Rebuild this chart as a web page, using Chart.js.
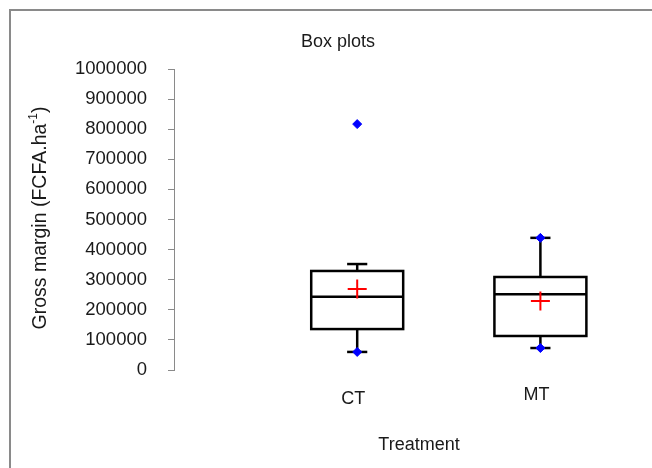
<!DOCTYPE html>
<html>
<head>
<meta charset="utf-8">
<script src="https://cdn.jsdelivr.net/npm/chart.js@4.4.0/dist/chart.umd.min.js"></script>
<style>
  html, body { margin: 0; padding: 0; background: #fff; overflow: hidden; }
  #wrap { position: relative; width: 652px; height: 468px; }
  #frame { position: absolute; left: 9px; top: 9px; width: 700px; height: 520px; border: 2px solid #8a8a8a; box-sizing: border-box; }
  canvas { position: absolute; left: 0; top: 0; }
</style>
</head>
<body>
<div id="wrap">
  <div id="frame"></div>
  <canvas id="chart" width="652" height="468"></canvas>
</div>
<script>
// Data
const categories = ['CT', 'MT'];
const positions = [1, 2];
const whiskerLow = [60000, 73000];
const q1 = [136000, 113000];
const medians = [243000, 252000];
const q3 = [329000, 309000];
const whiskerHigh = [352000, 439000];
const means = [269000, 229000];
const extremes = [[60000, 817000], [73000, 439000]];
const yTicks = [0, 100000, 200000, 300000, 400000, 500000, 600000, 700000, 800000, 900000, 1000000];

const FONT = "'Liberation Sans', Arial, sans-serif";
const TEXT = '#1a1a1a';

// Box, whiskers and median drawn through the scales
const boxPlugin = {
  id: 'boxes',
  beforeDatasetsDraw(chart) {
    const { ctx, scales: { x, y } } = chart;
    ctx.save();
    ctx.strokeStyle = '#000';
    ctx.lineWidth = 2.5;
    const line = (x1, y1, x2, y2) => { ctx.beginPath(); ctx.moveTo(x1, y1); ctx.lineTo(x2, y2); ctx.stroke(); };
    categories.forEach((c, i) => {
      const cx = x.getPixelForValue(positions[i]);
      const hw = x.getPixelForValue(positions[i] + 0.251) - cx;
      const cap = x.getPixelForValue(positions[i] + 0.055) - cx;
      const yHi = y.getPixelForValue(whiskerHigh[i]);
      const yLo = y.getPixelForValue(whiskerLow[i]);
      const y3 = y.getPixelForValue(q3[i]);
      const y1 = y.getPixelForValue(q1[i]);
      const ym = y.getPixelForValue(medians[i]);
      line(cx, y3, cx, yHi); line(cx - cap, yHi, cx + cap, yHi);
      line(cx, y1, cx, yLo); line(cx - cap, yLo, cx + cap, yLo);
      ctx.strokeRect(cx - hw, y3, hw * 2, y1 - y3);
      line(cx - hw, ym, cx + hw, ym);
    });
    ctx.restore();
  },
  afterDraw(chart) {
    const { ctx, scales: { x, y } } = chart;
    ctx.save();
    ctx.fillStyle = TEXT;
    ctx.font = `18px ${FONT}`;
    ctx.textAlign = 'center';
    ctx.textBaseline = 'middle';
    ctx.fillText('Box plots', 338, 42);
    categories.forEach((c, i) => {
      ctx.fillText(c, x.getPixelForValue(positions[i]) - 4, y.getPixelForValue(whiskerLow[i]) + 47);
    });
    ctx.fillText('Treatment', 419, 445);

    // y title with superscript
    ctx.translate(41, 218);
    ctx.rotate(-Math.PI / 2);
    const main = 'Gross margin (FCFA.ha';
    const sup = '-1';
    ctx.font = `19.5px ${FONT}`;
    const w1 = ctx.measureText(main).width;
    const w3 = ctx.measureText(')').width;
    ctx.font = `12px ${FONT}`;
    const w2 = ctx.measureText(sup).width;
    const sx = -(w1 + w2 + w3) / 2;
    ctx.textAlign = 'left';
    ctx.font = `19.5px ${FONT}`;
    ctx.fillText(main, sx, 0);
    ctx.font = `12px ${FONT}`;
    ctx.fillText(sup, sx + w1, -7);
    ctx.font = `19.5px ${FONT}`;
    ctx.fillText(')', sx + w1 + w2, 0);
    ctx.restore();
  }
};

const extremePoints = [];
extremes.forEach((arr, i) => arr.forEach(v => extremePoints.push({ x: positions[i], y: v })));
const meanPoints = means.map((v, i) => ({ x: positions[i], y: v }));

new Chart(document.getElementById('chart'), {
  type: 'scatter',
  data: {
    datasets: [
      { label: 'Extremes', data: extremePoints, pointStyle: 'rectRot', radius: 4.5, backgroundColor: '#0000ff', borderColor: '#0000ff', borderWidth: 1 },
      { label: 'Mean', data: meanPoints, pointStyle: 'cross', radius: 9.5, borderColor: '#ff0000', borderWidth: 2 }
    ]
  },
  options: {
    responsive: false,
    animation: false,
    layout: { padding: { left: 0, right: 20, top: 69, bottom: 98 } },
    plugins: { legend: { display: false }, tooltip: { enabled: false } },
    scales: {
      x: { type: 'linear', min: 0, max: 2.5, display: false },
      y: {
        min: 0, max: 1000000,
        afterFit(s) { s.width = 174; },
        afterBuildTicks(s) { s.ticks = yTicks.map(v => ({ value: v })); },
        grid: { drawOnChartArea: false, tickLength: 6, color: '#8a8a8a' },
        border: { display: true, color: '#8a8a8a', width: 1 },
        ticks: { padding: 21, color: TEXT, font: { family: FONT, size: 18.5 }, callback: v => String(v) }
      }
    }
  },
  plugins: [boxPlugin]
});
</script>
</body>
</html>
